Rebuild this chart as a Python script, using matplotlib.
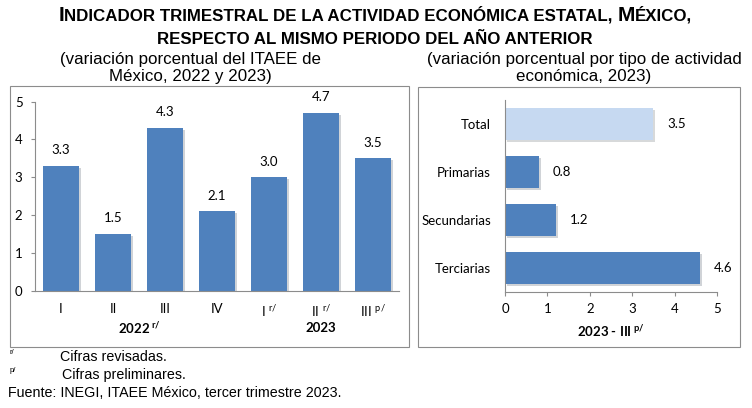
import numpy as np
import matplotlib
matplotlib.use('Agg')
import matplotlib.pyplot as plt
from matplotlib.patches import Rectangle
import matplotlib.patheffects as pe

# datos
trimestres = ['I', 'II', 'III', 'IV',
              'I$\\;^{\\mathregular{r/}}$', 'II$\\;^{\\mathregular{r/}}$', 'III$\\;^{\\mathregular{p/}}$']
variacion = [3.3, 1.5, 4.3, 2.1, 3.0, 4.7, 3.5]
anios = ['2022$\\,^{\\mathregular{r/}}$', '2023']
anios_pos = [1.5, 5.0]
sectores = ['Total', 'Primarias', 'Secundarias', 'Terciarias']
variacion_sector = [3.5, 0.8, 1.2, 4.6]

azul = '#4F81BD'
azul_claro = '#C6D9F1'
gris = '#8C8C8C'
fuente_graf = 'Lato'
sombra = [pe.SimplePatchShadow(offset=(1.5, -1.5), alpha=0.2), pe.Normal()]

fig = plt.figure(figsize=(7.52, 4.08), dpi=100)

# marcos de los paneles
fig.patches.append(Rectangle((10/752, 1-347/408), 399/752, 261/408, transform=fig.transFigure,
                             fill=False, edgecolor=gris, lw=0.8))
fig.patches.append(Rectangle((418/752, 1-347/408), 322/752, 260/408, transform=fig.transFigure,
                             fill=False, edgecolor=gris, lw=0.8))

# titulo en versalitas
def linea_versalitas(partes, y, xc=375):
    textos = []
    for txt, size in partes:
        textos.append(fig.text(0, y, txt, fontsize=size, fontweight='bold',
                               family='Liberation Sans', va='baseline', ha='left'))
    fig.canvas.draw()
    r = fig.canvas.get_renderer()
    anchos = [t.get_window_extent(r).width for t in textos]
    x = xc - sum(anchos) / 2
    for t, w in zip(textos, anchos):
        t.set_x(x / 752)
        x += w

g, p = 15, 12.2
linea_versalitas([('I', g), ('NDICADOR TRIMESTRAL DE LA ACTIVIDAD ECONÓMICA ESTATAL, ', p),
                  ('M', g), ('ÉXICO,', p)], 1 - 20.7/408)
linea_versalitas([('RESPECTO AL MISMO PERIODO DEL AÑO ANTERIOR', p)], 1 - 44/408)

sub_izq = ['(variación porcentual del ITAEE de', 'México, 2022 y 2023)']
sub_der = ['(variación porcentual por tipo de actividad', 'económica, 2023)']
for i, (a, b) in enumerate(zip(sub_izq, sub_der)):
    yb = 1 - (64 + 17.5 * i) / 408
    fig.text(190/752, yb, a, ha='center', va='baseline', fontsize=12.2, family='Liberation Sans')
    fig.text(584/752, yb, b, ha='center', va='baseline', fontsize=12.2, family='Liberation Sans')

# panel izquierdo: barras verticales
ax1 = fig.add_axes([35/752, 1-290.7/408, 364/752, 189/408])
x = np.arange(len(variacion))
barras = ax1.bar(x, variacion, width=0.69, color=azul, zorder=2)
for b in barras:
    b.set_path_effects(sombra)
for xi, v in zip(x, variacion):
    ax1.annotate(f'{v:.1f}', (xi, v), xytext=(0, 7), textcoords='offset points',
                 ha='center', va='bottom', fontsize=9.5, family=fuente_graf)
ax1.set_xlim(-0.5, len(variacion) - 0.5)
ax1.set_ylim(0, 5)
ax1.set_yticks(range(6))
ax1.set_xticks(x)
ax1.set_xticklabels(trimestres)
for s in ['top', 'right']:
    ax1.spines[s].set_visible(False)
for s in ['left', 'bottom']:
    ax1.spines[s].set_color(gris)
    ax1.spines[s].set_linewidth(0.8)
ax1.tick_params(axis='y', length=3, color=gris, pad=6, labelsize=9.5)
ax1.tick_params(axis='x', length=0, pad=9, labelsize=9.5)
for t in ax1.get_xticklabels() + ax1.get_yticklabels():
    t.set_family(fuente_graf)
for pos, a in zip(anios_pos, anios):
    ax1.text(pos, -0.197, a, transform=ax1.get_xaxis_transform(), ha='center', va='center',
             fontsize=9.5, fontweight='bold', family=fuente_graf)

# panel derecho: barras horizontales
ax2 = fig.add_axes([505/752, 1-292/408, 212/752, 192/408])
y = np.arange(len(sectores))
colores = [azul_claro] + [azul] * (len(sectores) - 1)
barras2 = ax2.barh(y, variacion_sector, height=0.67, color=colores, zorder=2)
for b in barras2:
    b.set_path_effects(sombra)
for yi, v in zip(y, variacion_sector):
    ax2.annotate(f'{v:.1f}', (v, yi), xytext=(10, 0), textcoords='offset points',
                 ha='left', va='center', fontsize=9.5, family=fuente_graf)
ax2.set_ylim(len(sectores) - 0.5, -0.5)
ax2.set_xlim(0, 5)
ax2.set_xticks(range(6))
ax2.set_yticks(y)
ax2.set_yticklabels(sectores)
for s in ['top', 'right']:
    ax2.spines[s].set_visible(False)
for s in ['left', 'bottom']:
    ax2.spines[s].set_color(gris)
    ax2.spines[s].set_linewidth(0.8)
ax2.tick_params(axis='x', length=3, color=gris, pad=5, labelsize=9.5)
ax2.tick_params(axis='y', length=0, pad=10, labelsize=9.5)
for t in ax2.get_xticklabels() + ax2.get_yticklabels():
    t.set_family(fuente_graf)
ax2.set_xlabel('2023 - III$\\,^{\\mathregular{p/}}$', fontsize=9.5, fontweight='bold',
               family=fuente_graf, labelpad=6)

# notas
fig.text(10/752, 1-353/408, 'r/', fontsize=5.5, family='Liberation Sans', va='center')
fig.text(60/752, 1-357/408, 'Cifras revisadas.', fontsize=10.3, family='Liberation Sans', va='center')
fig.text(10/752, 1-371/408, 'p/', fontsize=5.5, family='Liberation Sans', va='center')
fig.text(62/752, 1-375/408, 'Cifras preliminares.', fontsize=10.3, family='Liberation Sans', va='center')
fig.text(8/752, 1-393/408, 'Fuente: INEGI, ITAEE México, tercer trimestre 2023.', fontsize=10.3,
         family='Liberation Sans', va='center')

fig.savefig('out.png', dpi=100)
